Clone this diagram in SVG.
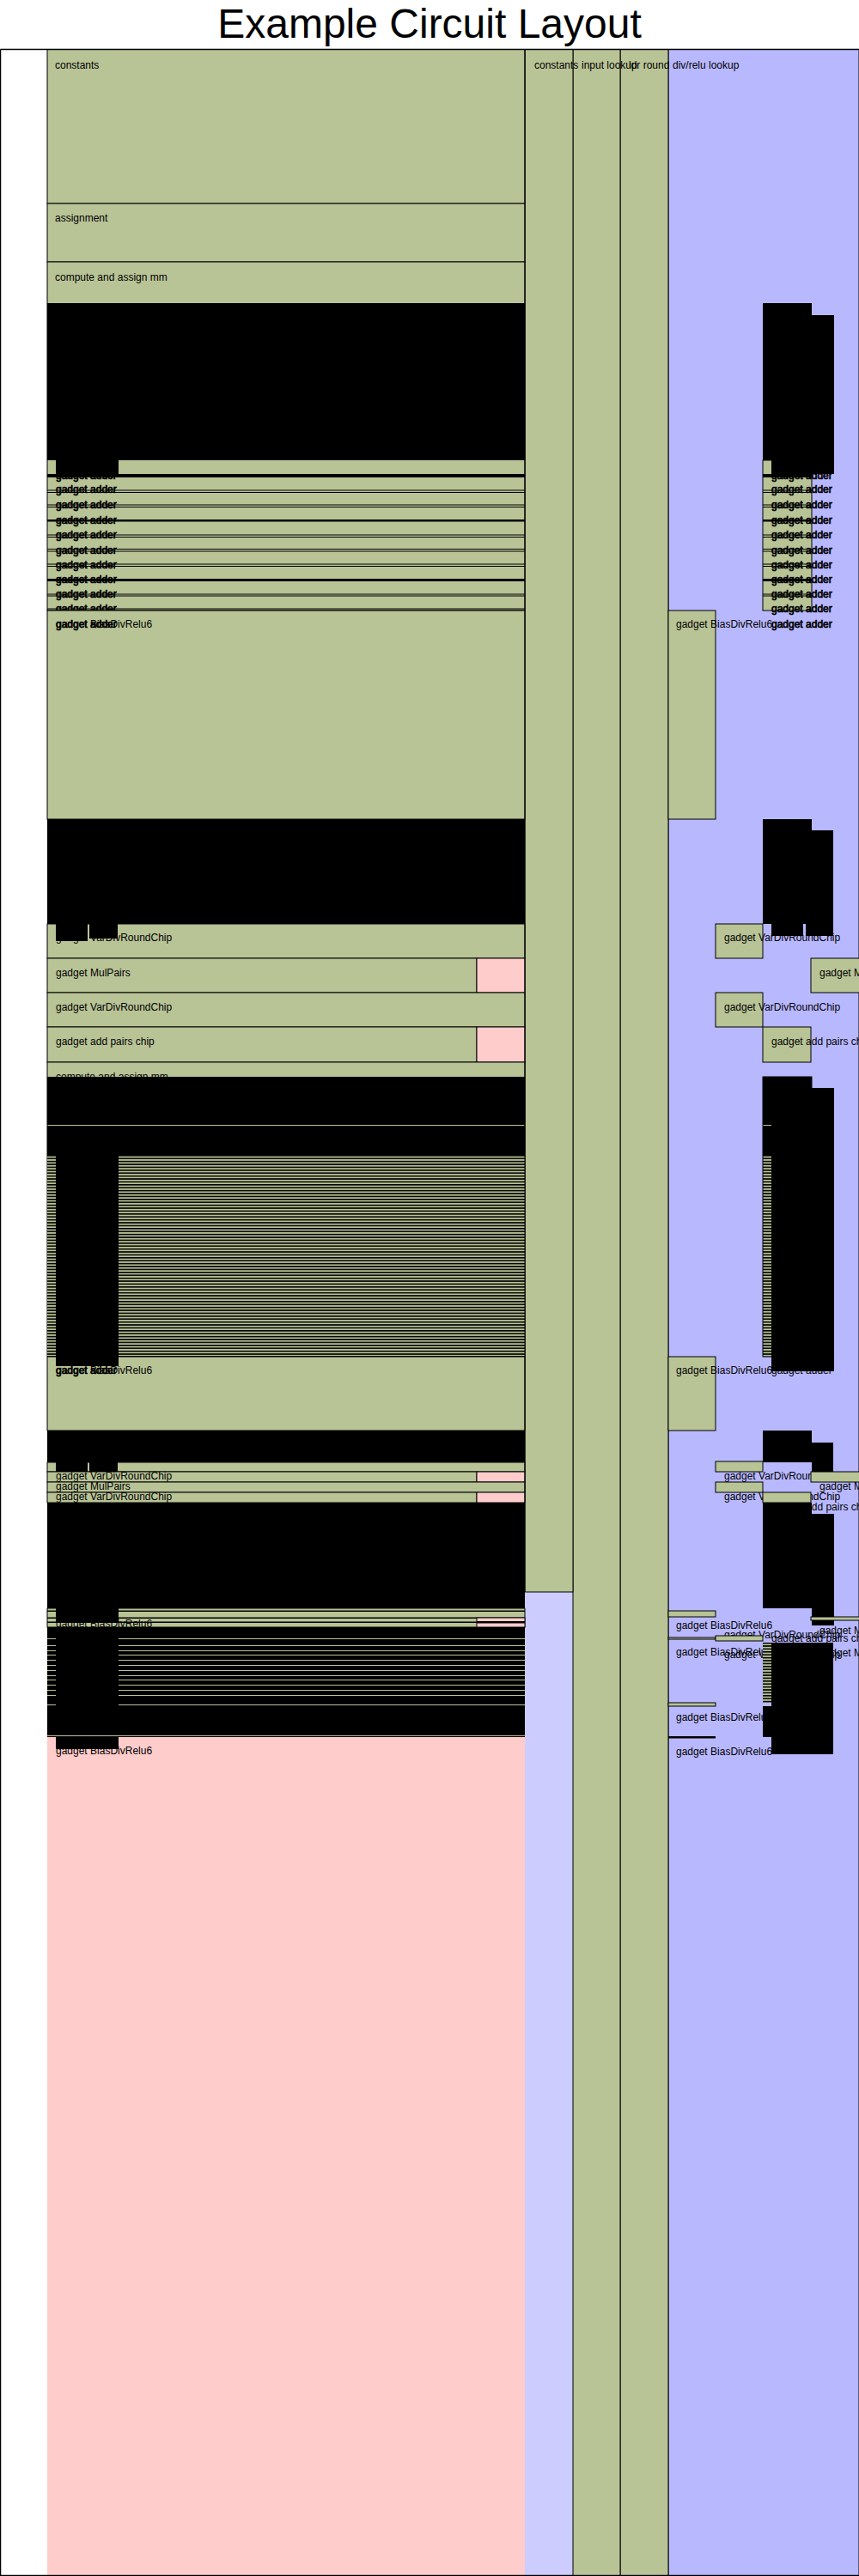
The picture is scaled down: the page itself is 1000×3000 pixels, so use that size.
<svg xmlns="http://www.w3.org/2000/svg" width="1000" height="3000" viewBox="0 0 1000 3000">
<defs>
<style>
.rg{fill:#b8c396;stroke:#000;stroke-width:1}
.gf{fill:#b8c396}
.k{fill:#000}
.pk{fill:#ffcccc;stroke:#000;stroke-width:1}
.lb{font-family:"Liberation Sans",Arial,sans-serif;font-size:12px;fill:#000}
.bd{font-family:"Liberation Sans",Arial,sans-serif;font-size:12px;fill:#000;stroke:#000;stroke-width:0.7}
.ttl{font-family:"Liberation Sans",Arial,sans-serif;font-size:48px;fill:#000}
.gl{fill:#b8c396}
</style>
<pattern id="rows" patternUnits="userSpaceOnUse" x="0" y="1345" width="10" height="3.4">
<rect width="10" height="3.4" fill="#b8c396"/>
<rect width="10" height="1.6" fill="#000"/>
</pattern>
</defs>

<rect x="0" y="0" width="1000" height="3000" fill="#fff"/>
<text class="ttl" x="500" y="44" text-anchor="middle">Example Circuit Layout</text>

<!-- column backgrounds -->
<g id="columns">
<rect x="55" y="57" width="556" height="2943" fill="#ffcccc"/>
<rect x="611" y="57" width="56" height="2943" fill="#ccccff"/>
<rect x="778" y="57" width="222" height="2943" fill="#b8b8ff"/>
</g>

<!-- full-height column regions, drawn right to left so each label can run over its neighbour -->
<g id="col-divrelu"><rect x="778" y="57.5" width="222" height="2942" fill="#b8b8ff" stroke="#000"/><text class="lb" x="783" y="80">div/relu lookup</text></g>
<g id="col-ldr-round"><rect class="rg" x="722" y="57.5" width="56" height="2942"/><text class="lb" x="732" y="80">ldr round</text></g>
<g id="col-input-lookup"><rect class="rg" x="667" y="57.5" width="55" height="2942"/><text class="lb" x="677" y="80">input lookup</text></g>
<g id="col-constants"><rect class="rg" x="611" y="57.5" width="56" height="1796.5"/><text class="lb" x="622" y="80">constants</text></g>

<!-- main advice column: upper regions -->
<g id="r-constants"><rect class="rg" x="55" y="57.5" width="556" height="179.5"/><text class="lb" x="64" y="80">constants</text></g>
<g id="r-assignment"><rect class="rg" x="55" y="237" width="556" height="68"/><text class="lb" x="64" y="258">assignment</text></g>
<g id="r-mm1">
<rect class="rg" x="55" y="305" width="556" height="406"/>
<text class="lb" x="64" y="327">compute and assign mm</text>
<rect class="k" x="55" y="353" width="556" height="183"/>
<rect class="k" x="65" y="536" width="73" height="16"/>
<rect class="k" x="55" y="552" width="556" height="4"/>
</g>

<!-- adder gadgets stack -->
<g id="adders-left">
<rect class="k" x="55" y="570.5" width="556" height="1"/><rect class="k" x="55" y="573" width="556" height="1"/>
<rect class="k" x="55" y="587.5" width="556" height="1"/><rect class="k" x="55" y="590" width="556" height="1"/>
<rect class="k" x="55" y="605" width="556" height="2.5"/>
<rect class="k" x="55" y="622.5" width="556" height="1"/><rect class="k" x="55" y="625" width="556" height="1"/>
<rect class="k" x="55" y="639" width="556" height="1"/><rect class="k" x="55" y="641.5" width="556" height="1"/>
<rect class="k" x="55" y="656.5" width="556" height="1"/><rect class="k" x="55" y="659" width="556" height="1"/>
<rect class="k" x="55" y="674" width="556" height="3"/>
<rect class="k" x="55" y="691.5" width="556" height="1"/><rect class="k" x="55" y="693.5" width="556" height="1"/>
<rect class="k" x="55" y="708.5" width="556" height="1"/><rect class="k" x="55" y="710.5" width="556" height="1"/>
<text class="bd" x="65" y="558">gadget adder</text>
<text class="bd" x="65" y="574">gadget adder</text>
<text class="bd" x="65" y="592">gadget adder</text>
<text class="bd" x="65" y="610">gadget adder</text>
<text class="bd" x="65" y="627">gadget adder</text>
<text class="bd" x="65" y="645">gadget adder</text>
<text class="bd" x="65" y="662">gadget adder</text>
<text class="bd" x="65" y="679">gadget adder</text>
<text class="bd" x="65" y="696">gadget adder</text>
<text class="bd" x="65" y="713">gadget adder</text>
</g>

<g id="adders-right">
<rect class="k" x="888" y="353" width="57" height="183"/>
<rect class="k" x="945" y="367" width="26" height="185"/>
<rect class="rg" x="888" y="536" width="57" height="175"/>
<rect class="k" x="898" y="536" width="73" height="16"/>
<rect class="k" x="888" y="552" width="57" height="4"/>
<rect class="k" x="888" y="570.5" width="57" height="1"/><rect class="k" x="888" y="573" width="57" height="1"/>
<rect class="k" x="888" y="587.5" width="57" height="1"/><rect class="k" x="888" y="590" width="57" height="1"/>
<rect class="k" x="888" y="605" width="57" height="2.5"/>
<rect class="k" x="888" y="622.5" width="57" height="1"/><rect class="k" x="888" y="625" width="57" height="1"/>
<rect class="k" x="888" y="639" width="57" height="1"/><rect class="k" x="888" y="641.5" width="57" height="1"/>
<rect class="k" x="888" y="656.5" width="57" height="1"/><rect class="k" x="888" y="659" width="57" height="1"/>
<rect class="k" x="888" y="674" width="57" height="3"/>
<rect class="k" x="888" y="691.5" width="57" height="1"/><rect class="k" x="888" y="693.5" width="57" height="1"/>
<text class="bd" x="898" y="558">gadget adder</text>
<text class="bd" x="898" y="574">gadget adder</text>
<text class="bd" x="898" y="592">gadget adder</text>
<text class="bd" x="898" y="610">gadget adder</text>
<text class="bd" x="898" y="627">gadget adder</text>
<text class="bd" x="898" y="645">gadget adder</text>
<text class="bd" x="898" y="662">gadget adder</text>
<text class="bd" x="898" y="679">gadget adder</text>
<text class="bd" x="898" y="696">gadget adder</text>
<text class="bd" x="898" y="713">gadget adder</text>
</g>

<!-- first relu block -->
<g id="relu-1">
<rect class="rg" x="55" y="711" width="556" height="243"/>
<text class="lb" x="65" y="731">gadget BiasDivRelu6</text>
<text class="bd" x="65" y="731">gadget adder</text>
<rect class="rg" x="778" y="711" width="55" height="243"/>
<text class="lb" x="787" y="731">gadget BiasDivRelu6</text>
<text class="bd" x="898" y="731">gadget adder</text>
</g>

<!-- second block: division, pairs -->
<g id="block-2">
<rect class="k" x="55" y="954" width="556" height="122"/>
<rect class="rg" x="55" y="1076" width="556" height="40"/>
<rect class="k" x="65" y="1076" width="37" height="20"/>
<rect class="k" x="104" y="1076" width="33" height="17"/>
<text class="lb" x="65" y="1096">gadget VarDivRoundChip</text>
<rect class="rg" x="55" y="1116" width="500" height="40"/>
<rect class="pk" x="555" y="1116" width="56" height="40"/>
<text class="lb" x="65" y="1137">gadget MulPairs</text>
<rect class="rg" x="55" y="1156" width="556" height="40"/>
<text class="lb" x="65" y="1177">gadget VarDivRoundChip</text>
<rect class="rg" x="55" y="1196" width="500" height="41"/>
<rect class="pk" x="555" y="1196" width="56" height="41"/>
<text class="lb" x="65" y="1217">gadget add pairs chip</text>
</g>
<g id="block-2-right">
<rect class="k" x="888" y="954" width="57" height="122"/>
<rect class="k" x="945" y="967" width="25" height="123"/>
<rect class="rg" x="833" y="1076" width="55" height="40"/>
<text class="lb" x="843" y="1096">gadget VarDivRoundChip</text>
<rect class="k" x="898" y="1076" width="37" height="14"/>
<rect class="k" x="938" y="1076" width="30" height="14"/>
<rect class="rg" x="944" y="1116" width="60" height="40"/>
<text class="lb" x="954" y="1137">gadget MulPairs</text>
<rect class="rg" x="833" y="1156" width="55" height="40"/>
<text class="lb" x="843" y="1177">gadget VarDivRoundChip</text>
<rect class="rg" x="888" y="1196" width="56" height="41"/>
<text class="lb" x="898" y="1217">gadget add pairs chip</text>
</g>

<!-- second matrix multiplication -->
<g id="r-mm2">
<rect class="rg" x="55" y="1237" width="556" height="429"/>
<text class="lb" x="65" y="1258">compute and assign mm</text>
<rect class="k" x="55" y="1254" width="556" height="56"/>
<rect class="k" x="55" y="1311" width="556" height="34"/>
<rect x="55" y="1345" width="556" height="235" fill="url(#rows)"/>
<rect class="k" x="55" y="1579" width="556" height="1.5"/>
<rect class="k" x="65" y="1311" width="73" height="280"/>
<text class="lb" x="65" y="1600">gadget BiasDivRelu6</text>
<text class="bd" x="65" y="1600">gadget adder</text>
</g>
<g id="r-mm2-right">
<rect class="k" x="888" y="1254" width="57" height="91"/>
<rect class="gf" x="888" y="1310" width="10" height="1"/>
<rect x="888" y="1345" width="10" height="235" fill="url(#rows)"/>
<rect class="k" x="898" y="1345" width="47" height="252"/>
<rect class="k" x="945" y="1267" width="26" height="330"/>
<rect x="888" y="1254" width="57" height="326" fill="none" stroke="#000"/>
<rect class="rg" x="778" y="1580" width="55" height="86"/>
<text class="lb" x="787" y="1600">gadget BiasDivRelu6</text>
<text class="lb" x="898" y="1600">gadget adder</text>
</g>

<!-- third block -->
<g id="block-3">
<rect class="k" x="55" y="1666" width="556" height="37"/>
<rect class="rg" x="55" y="1703" width="556" height="11"/>
<rect class="k" x="65" y="1703" width="37" height="13"/>
<rect class="k" x="104" y="1703" width="33" height="13"/>
<rect class="rg" x="55" y="1714" width="500" height="12"/>
<rect class="pk" x="555" y="1714" width="56" height="12"/>
<text class="lb" x="65" y="1723">gadget VarDivRoundChip</text>
<rect class="rg" x="55" y="1726" width="556" height="12"/>
<text class="lb" x="65" y="1735">gadget MulPairs</text>
<rect class="rg" x="55" y="1738" width="500" height="12"/>
<rect class="pk" x="555" y="1738" width="56" height="12"/>
<text class="lb" x="65" y="1747">gadget VarDivRoundChip</text>
<rect class="k" x="55" y="1750" width="556" height="123"/>
<rect class="rg" x="55" y="1873" width="556" height="22"/>
<rect class="k" x="55" y="1875.5" width="556" height="1.5"/>
<rect class="k" x="55" y="1883.5" width="556" height="1.5"/>
<rect class="k" x="55" y="1888.5" width="556" height="1.5"/>
<rect class="pk" x="555" y="1884" width="56" height="4.5"/>
<rect class="pk" x="555" y="1890" width="56" height="5"/>
<rect class="k" x="65" y="1873" width="73" height="16"/>
<text class="lb" x="65" y="1895">gadget BiasDivRelu6</text>
<rect class="k" x="55" y="1895" width="556" height="128"/>
<g class="gl">
<rect x="55" y="1908" width="556" height="1"/><rect x="55" y="1916" width="556" height="1"/>
<rect x="55" y="1922" width="556" height="1"/><rect x="55" y="1927" width="556" height="1"/>
<rect x="55" y="1933" width="556" height="1"/><rect x="55" y="1939" width="556" height="1"/>
<rect x="55" y="1945" width="556" height="1"/><rect x="55" y="1951" width="556" height="1"/>
<rect x="55" y="1956" width="556" height="1"/><rect x="55" y="1962" width="556" height="1"/>
<rect x="55" y="1968" width="556" height="1"/><rect x="55" y="1974" width="556" height="1"/>
<rect x="55" y="1985" width="556" height="1"/><rect x="55" y="2021" width="556" height="1"/>
</g>
<rect class="k" x="65" y="1895" width="73" height="126"/>
<rect class="k" x="65" y="2022" width="73" height="15"/>
<text class="lb" x="65" y="2043">gadget BiasDivRelu6</text>
</g>
<g id="block-3-right">
<rect class="k" x="888" y="1666" width="57" height="37"/>
<rect class="k" x="945" y="1680" width="25" height="40"/>
<rect class="rg" x="833" y="1702" width="55" height="12"/>
<text class="lb" x="843" y="1723">gadget VarDivRoundChip</text>
<rect class="rg" x="944" y="1714" width="60" height="12"/>
<text class="lb" x="954" y="1735">gadget MulPairs</text>
<rect class="rg" x="833" y="1726" width="55" height="12"/>
<text class="lb" x="843" y="1747">gadget VarDivRoundChip</text>
<rect class="rg" x="888" y="1738" width="56" height="12"/>
<text class="lb" x="898" y="1759">gadget add pairs chip</text>
<rect class="k" x="888" y="1750" width="57" height="123"/>
<rect class="k" x="945" y="1763" width="26" height="130"/>
<rect class="rg" x="778" y="1876" width="55" height="7"/>
<text class="lb" x="787" y="1897">gadget BiasDivRelu6</text>
<rect class="rg" x="944" y="1883" width="60" height="4"/>
<text class="lb" x="954" y="1903">gadget MulPairs</text>
<text class="lb" x="843" y="1908">gadget VarDivRoundChip</text>
<text class="lb" x="898" y="1912">gadget add pairs chip</text>
<rect class="rg" x="778" y="1907" width="55" height="2"/>
<rect class="rg" x="833" y="1905" width="55" height="6"/>
<text class="lb" x="787" y="1928">gadget BiasDivRelu6</text>
<text class="lb" x="843" y="1931">gadget VarDivRoundChip</text>
<text class="lb" x="954" y="1929">gadget MulPairs</text>
<rect x="888" y="1913" width="10" height="70" fill="url(#rows)"/>
<rect class="k" x="898" y="1913" width="72" height="130"/>
<rect class="rg" x="778" y="1983" width="55" height="4"/>
<text class="lb" x="787" y="2004">gadget BiasDivRelu6</text>
<rect class="k" x="888" y="1987" width="57" height="36"/>
<rect class="k" x="778" y="2022" width="55" height="2.5"/>
<text class="lb" x="787" y="2044">gadget BiasDivRelu6</text>
</g>

<!-- outer frame -->
<g id="frame">
<path d="M0.5,57.5 H1000 M0.5,57.5 V2999.5 H1000" fill="none" stroke="#000" stroke-width="1.5"/>
<line x1="611" y1="57" x2="611" y2="1854" stroke="#000"/>
</g>
</svg>
